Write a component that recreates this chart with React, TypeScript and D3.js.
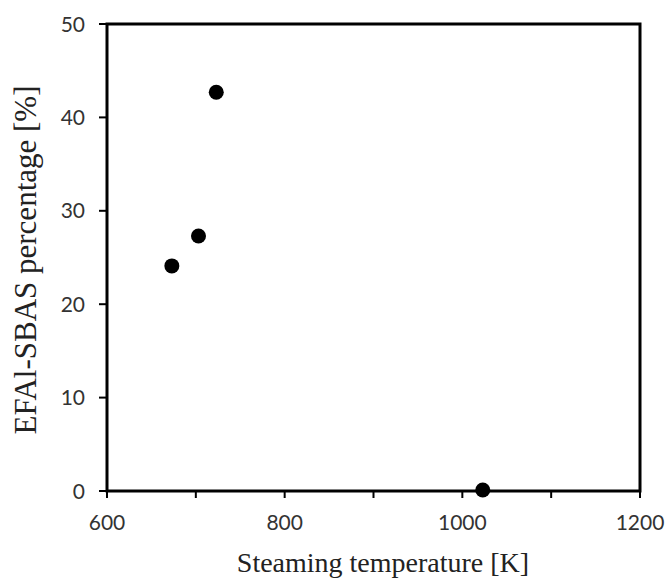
import React from "react";
import * as d3 from "d3";

const temperatures = [673, 703, 723, 1023];
const efalPercent = [24.1, 27.3, 42.7, 0.1];
const xTicks = [600, 700, 800, 900, 1000, 1100, 1200];
const xLabelTicks = [600, 800, 1000, 1200];
const yTicks = [0, 10, 20, 30, 40, 50];
const xTitle = "Steaming temperature [K]";
const yTitle = "EFAl-SBAS percentage [%]";

export default function App() {
  const W = 670, H = 581;
  const left = 107, right = 640, top = 24, bottom = 491;
  const x = d3.scaleLinear().domain([600, 1200]).range([left, right]);
  const y = d3.scaleLinear().domain([0, 50]).range([bottom, top]);
  const font = "'Liberation Serif', 'Times New Roman', serif";
  const tickFont = "Lato, 'Open Sans', sans-serif";
  return (
    <svg width={W} height={H} style={{ position: "absolute", left: 0, top: 0, background: "#fff" }}>
      <rect x={0} y={0} width={W} height={H} fill="#fff" />
      {xTicks.map((t) => (
        <line key={"xt" + t} x1={x(t)} x2={x(t)} y1={bottom} y2={bottom + 7} stroke="#000" strokeWidth={2} />
      ))}
      {yTicks.map((t) => (
        <line key={"yt" + t} x1={left - 8} x2={left} y1={y(t)} y2={y(t)} stroke="#000" strokeWidth={2} />
      ))}
      <rect x={left} y={top} width={right - left} height={bottom - top} fill="none" stroke="#000" strokeWidth={3} />
      {xLabelTicks.map((t) => (
        <text key={"xl" + t} x={x(t)} y={bottom + 39} textAnchor="middle" fontFamily={tickFont} fontSize={21} fill="#333">
          {t}
        </text>
      ))}
      {yTicks.map((t) => (
        <text key={"yl" + t} x={left - 22} y={y(t)} dy="0.36em" textAnchor="end" fontFamily={tickFont} fontSize={21} fill="#333">
          {t}
        </text>
      ))}
      {temperatures.map((t, i) => (
        <circle key={"p" + i} cx={x(t)} cy={y(efalPercent[i])} r={7.5} fill="#000" />
      ))}
      <text x={383} y={572} textAnchor="middle" fontFamily={font} fontSize={28} fill="#222">
        {xTitle}
      </text>
      <text
        transform={`translate(36, 260) rotate(-90)`}
        textAnchor="middle"
        fontFamily={font}
        fontSize={31}
        fill="#222"
      >
        {yTitle}
      </text>
    </svg>
  );
}
